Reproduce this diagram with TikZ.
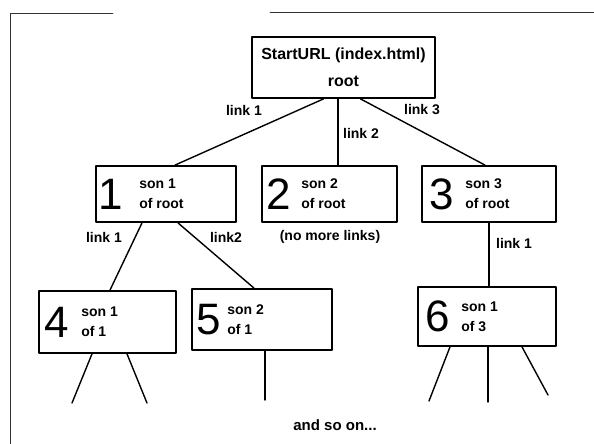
\documentclass[tikz,border=0pt]{standalone}
\usepackage{fontspec}
\setmainfont{Liberation Sans}
\usetikzlibrary{calc}

\begin{document}
\begin{tikzpicture}[line join=round, line cap=round, x=1pt, y=-1pt,
	pagebox/.style={draw, line width=1.8pt, minimum height=56pt, inner sep=0pt},
	digit/.style={font=\fontsize{44}{44}\selectfont, inner sep=0pt},
	sontext/.style={font=\bfseries\fontsize{14}{20}\selectfont, align=left, anchor=west, inner sep=0pt},
	roottext/.style={font=\bfseries\fontsize{16}{27}\selectfont, align=center, inner sep=0pt},
	linklabel/.style={font=\bfseries\fontsize{14}{16}\selectfont, inner sep=0pt},
	edge/.style={line width=1.4pt}]
	\useasboundingbox (0,0) rectangle (594,444);
	% khung
	\draw[line width=0.8pt, black!80] (113,13) -- (10,13) -- (10,444);
	\draw[line width=0.8pt, black!80] (270,12) -- (594,12);
	% goc
	\node[pagebox, minimum width=183pt, minimum height=61pt] (root) at (343.5,67.5) {};
	\node[roottext] (rt) at (root) {StartURL (index.html)\\root};
	% hang 2
	\node[pagebox, minimum width=140pt] (s1) at (166,194) {};
	\node[digit] (d1) at ([xshift=16pt]s1.west) {1};
	\node[sontext] (t1) at ([xshift=44pt]s1.west) {son 1\\of root};
	\node[pagebox, minimum width=135pt] (s2) at (329.5,194) {};
	\node[digit] (d2) at ([xshift=18pt]s2.west) {2};
	\node[sontext] (t2) at ([xshift=40pt]s2.west) {son 2\\of root};
	\node[pagebox, minimum width=134pt] (s3) at (489,194) {};
	\node[digit] (d3) at ([xshift=21pt]s3.west) {3};
	\node[sontext] (t3) at ([xshift=44pt]s3.west) {son 3\\of root};
	\draw[edge] ([xshift=-20pt]root.south) -- ([xshift=9pt]s1.north);
	\draw[edge] ([xshift=-5.5pt]root.south) -- ([xshift=-5.5pt]root.south |- s2.north);
	\draw[edge] ([xshift=17pt]root.south) -- ([xshift=-4pt]s3.north);
	\node[linklabel] (l1) at (244,110) {link 1};
	\node[linklabel] (l2) at (361,133) {link 2};
	\node[linklabel] (l3) at (422,110) {link 3};
	% hang 3
	\node[pagebox, minimum width=137pt, minimum height=62pt] (s4) at (107.5,322) {};
	\node[digit] (d4) at ([xshift=19pt]s4.west) {4};
	\node[sontext] (t4) at ([xshift=43pt]s4.west) {son 1\\of 1};
	\node[pagebox, minimum width=140pt, minimum height=61pt] (s5) at (262,319.5) {};
	\node[digit] (d5) at ([xshift=18pt]s5.west) {5};
	\node[sontext] (t5) at ([xshift=36pt]s5.west) {son 2\\of 1};
	\node[pagebox, minimum width=138pt, minimum height=59pt] (s6) at (487,316.5) {};
	\node[digit] (d6) at ([xshift=21pt]s6.west) {6};
	\node[sontext] (t6) at ([xshift=44pt]s6.west) {son 1\\of 3};
	\draw[edge] ([xshift=-24pt]s1.south) -- ([xshift=2.5pt]s4.north);
	\draw[edge] ([xshift=12pt]s1.south) -- ([xshift=-8pt]s5.north);
	\draw[edge] (s3.south) -- (s3.south |- s6.north);
	\node[linklabel] (l11) at (104,237) {link 1};
	\node[linklabel] (l12) at (226,237) {link2};
	\node[linklabel] (nomore) at (330,237) {(no more links)};
	\node[linklabel] (l31) at (514,243) {link 1};
	% cac nhanh tiep
	\coordinate (e4a) at (72,403);
	\coordinate (e4b) at (147,403);
	\coordinate (e5) at (265,400);
	\coordinate (e6a) at (429,401);
	\coordinate (e6b) at (488,402);
	\coordinate (e6c) at (548,395);
	\draw[edge] ([xshift=-15.5pt]s4.south) -- (e4a);
	\draw[edge] ([xshift=19.5pt]s4.south) -- (e4b);
	\draw[edge] (e5 |- s5.south) -- (e5);
	\draw[edge] ([xshift=-37pt]s6.south) -- (e6a);
	\draw[edge] (e6b |- s6.south) -- (e6b);
	\draw[edge] ([xshift=35pt]s6.south) -- (e6c);
	\node[linklabel, font=\bfseries\fontsize{15}{16}\selectfont] (more) at (335,425) {and so on...};
\end{tikzpicture}
\end{document}
